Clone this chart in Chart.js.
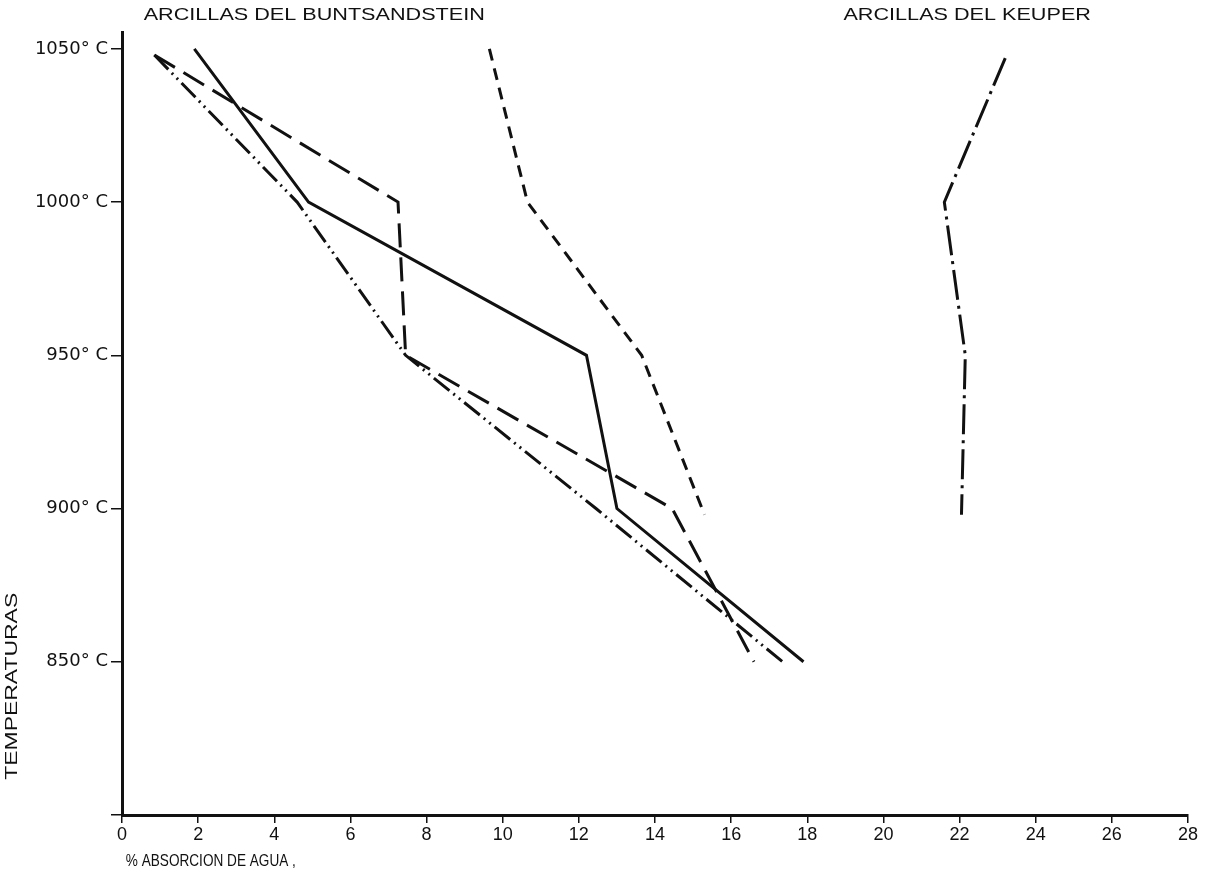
<!DOCTYPE html>
<html lang="es">
<head>
<meta charset="UTF-8">
<title>Absorcion de agua</title>
<script src="https://cdn.jsdelivr.net/npm/chart.js"></script>
<style>
  html, body { margin: 0; padding: 0; background: #fff; }
  #wrap { width: 1207px; height: 884px; }
</style>
</head>
<body>
<div id="wrap"><canvas id="chart"></canvas></div>
<script>
// tick values
var xTicks = [0, 2, 4, 6, 8, 10, 12, 14, 16, 18, 20, 22, 24, 26, 28];
var yTicks = [800, 850, 900, 950, 1000, 1050];

// Buntsandstein clays (% absorcion, temperatura)
var solidAbs   = [1.9, 4.9, 12.2, 13.0, 17.9];
var solidTemp  = [1050, 1000, 950, 900, 850];
var longAbs    = [0.85, 7.25, 7.45, 14.45, 16.6];
var longTemp   = [1048, 1000, 950, 900, 850];
var dotAbs     = [0.85, 4.6, 7.45, 12.45, 17.35];
var dotTemp    = [1048, 1000, 950, 900, 850];
var shortAbs   = [9.65, 10.65, 13.65, 15.3];
var shortTemp  = [1050, 1000, 950, 898];
// Keuper clays
var keuperAbs  = [23.2, 21.6, 22.15, 22.05];
var keuperTemp = [1047, 1000, 950, 898];

function pts(xs, ys) {
    return xs.map(function (v, i) { return { x: v, y: ys[i] }; });
}

function line(label, xs, ys, dash) {
    return {
        label: label,
        data: pts(xs, ys),
        showLine: true,
        borderColor: '#111',
        borderWidth: 3,
        borderDash: dash,
        pointRadius: 0,
        tension: 0,
        fill: false
    };
}

var FONT = '"Liberation Sans", Arial, sans-serif';

// text with a horizontal stretch (the scan uses wide / narrow lettering)
function stretchedText(ctx, text, x, y, sx) {
    ctx.save();
    ctx.translate(x, y);
    ctx.scale(sx, 1);
    ctx.fillText(text, 0, 0);
    ctx.restore();
}

// headers, y title and x title
var extraText = {
    id: 'extraText',
    afterDraw: function (chart) {
        var ctx = chart.ctx;
        var xs = chart.scales.x;
        var ys = chart.scales.y;
        ctx.save();
        ctx.fillStyle = '#111';
        ctx.textBaseline = 'middle';
        ctx.textAlign = 'left';
        ctx.font = '16.5px ' + FONT;
        stretchedText(ctx, 'ARCILLAS DEL BUNTSANDSTEIN', xs.getPixelForValue(0.57), 15, 1.31);
        stretchedText(ctx, 'ARCILLAS DEL KEUPER', xs.getPixelForValue(18.95), 15, 1.31);

        // x title, narrow lettering
        ctx.font = '17px ' + FONT;
        stretchedText(ctx, '% ABSORCION DE AGUA ,', xs.getPixelForValue(0.1), 861, 0.8);

        // y title, low on the axis
        ctx.save();
        ctx.font = '17px ' + FONT;
        ctx.translate(12, ys.getPixelForValue(842));
        ctx.rotate(-Math.PI / 2);
        ctx.scale(1.35, 1);
        ctx.textAlign = 'center';
        ctx.fillText('TEMPERATURAS', 0, 0);
        ctx.restore();
        ctx.restore();
    }
};

var ctx = document.getElementById('chart').getContext('2d');
var myChart = new Chart(ctx, {
    type: 'scatter',
    data: {
        datasets: [
            line('Buntsandstein 1', solidAbs, solidTemp, []),
            line('Buntsandstein 2', longAbs, longTemp, [24, 10]),
            line('Buntsandstein 3', dotAbs, dotTemp, [20, 5, 2, 5, 2, 5]),
            line('Buntsandstein 4', shortAbs, shortTemp, [12, 8]),
            line('Keuper', keuperAbs, keuperTemp, [30, 6, 3, 6])
        ]
    },
    options: {
        responsive: true,
        maintainAspectRatio: false,
        animation: false,
        layout: { padding: { left: 0, top: 32, right: 19, bottom: 0 } },
        plugins: {
            legend: { display: false },
            tooltip: { enabled: false }
        },
        scales: {
            x: {
                type: 'linear',
                min: 0,
                max: 28,
                afterBuildTicks: function (s) { s.ticks = xTicks.map(function (v) { return { value: v }; }); },
                afterFit: function (s) { s.height = 69; },
                grid: { drawOnChartArea: false, drawTicks: true, tickLength: 8, color: '#111', lineWidth: 1.5 },
                border: { display: true, color: '#111', width: 3 },
                ticks: {
                    color: '#111',
                    padding: 1,
                    maxRotation: 0,
                    autoSkip: false,
                    font: { family: FONT, size: 18 }
                }
            },
            y: {
                type: 'linear',
                min: 800,
                max: 1055.5,
                afterBuildTicks: function (s) { s.ticks = yTicks.map(function (v) { return { value: v }; }); },
                afterFit: function (s) { s.width = 122; },
                grid: { drawOnChartArea: false, drawTicks: true, tickLength: 11, color: '#111', lineWidth: 1.5 },
                border: { display: true, color: '#111', width: 3 },
                ticks: {
                    color: '#111',
                    padding: 3,
                    font: { family: '"DejaVu Sans", ' + FONT, size: 18 },
                    callback: function (v) { return v === 800 ? '' : v + '\u00B0 C'; }
                }
            }
        }
    },
    plugins: [extraText]
});
</script>
</body>
</html>
